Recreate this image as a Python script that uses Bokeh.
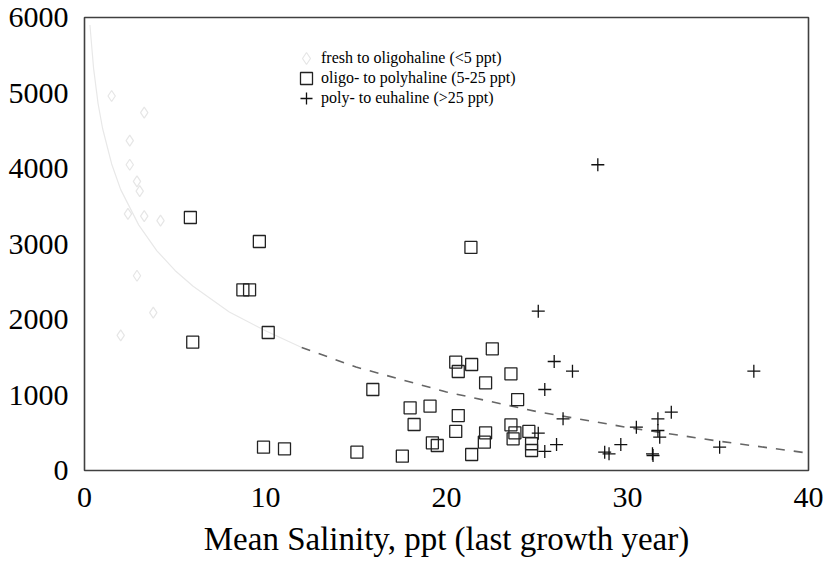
from bokeh.plotting import figure
from bokeh.models import Range1d, FixedTicker, Legend, LegendItem
from bokeh.embed import file_html
from bokeh.resources import INLINE

# fresh to oligohaline (<5 ppt)
fresh_x = [1.5, 3.3, 2.5, 2.5, 2.9, 3.05, 2.4, 3.3, 4.2, 2.9, 3.8, 2.0]
fresh_y = [4960, 4740, 4370, 4050, 3830, 3700, 3400, 3370, 3310, 2580, 2090, 1790]

# oligo- to polyhaline (5-25 ppt)
oligo_x = [5.85, 9.66, 8.75, 9.12, 10.15, 5.98, 21.35, 22.53, 20.51, 21.39, 20.65, 23.56,
           22.16, 15.93, 23.93, 17.99, 19.09, 20.65, 18.21, 20.51, 23.56, 22.16, 23.78,
           24.55, 22.09, 23.68, 19.22, 19.49, 24.7, 24.7, 9.89, 11.05, 15.05, 17.56, 21.39]
oligo_y = [3351, 3033, 2393, 2393, 1828, 1700, 2954, 1612, 1435, 1404, 1311, 1280,
           1161, 1073, 940, 830, 852, 728, 609, 517, 605, 499, 499,
           517, 375, 420, 367, 331, 354, 265, 309, 287, 243, 190, 212]

# poly- to euhaline (>25 ppt)
poly_x = [25.07, 25.95, 26.96, 36.98, 25.43, 32.42, 26.44, 31.68, 30.49, 31.68, 25.07,
          31.78, 26.08, 29.63, 25.43, 28.74, 28.98, 31.38, 31.41, 35.09, 28.36]
poly_y = [2110, 1444, 1315, 1315, 1073, 772, 685, 685, 574, 530, 494,
          441, 344, 344, 252, 243, 221, 221, 199, 309, 4050]

# trend line
trend_solid_x = [0.3, 0.5, 0.75, 1, 1.5, 2, 3, 4, 5, 6, 8, 10, 12]
trend_solid_y = [5900, 5330, 4860, 4530, 4060, 3720, 3250, 2910, 2650, 2440, 2100, 1850, 1630]
trend_dash_x = [12, 15, 20, 25, 30, 35, 40]
trend_dash_y = [1630, 1370, 1040, 780, 570, 390, 230]

x_ticks = [0, 10, 20, 30, 40]
y_ticks = [0, 1000, 2000, 3000, 4000, 5000, 6000]

series_labels = ["fresh to oligohaline (<5 ppt)",
                 "oligo- to polyhaline (5-25 ppt)",
                 "poly- to euhaline (>25 ppt)"]
x_title = "Mean Salinity, ppt (last growth year)"

FONT = "Liberation Serif"

p = figure(width=826, height=568, output_backend="svg", toolbar_location=None,
           x_range=Range1d(0, 40), y_range=Range1d(0, 6000),
           min_border_left=84, min_border_right=18, min_border_top=17, min_border_bottom=98)
p.background_fill_color = "white"
p.border_fill_color = "white"
p.grid.visible = False
p.outline_line_color = "#404040"
p.outline_line_width = 1.6

for ax in (p.xaxis[0], p.yaxis[0]):
    ax.axis_line_color = None
    ax.major_tick_line_color = None
    ax.minor_tick_line_color = None
    ax.major_tick_out = 0
    ax.major_tick_in = 0
    ax.major_label_text_font = FONT
    ax.major_label_text_font_size = "30px"
    ax.major_label_text_color = "black"

p.xaxis.ticker = FixedTicker(ticks=x_ticks)
p.yaxis.ticker = FixedTicker(ticks=y_ticks)
p.xaxis.major_label_standoff = 17
p.yaxis.major_label_standoff = 16
p.xaxis.axis_label = x_title
p.xaxis.axis_label_text_font = FONT
p.xaxis.axis_label_text_font_size = "33px"
p.xaxis.axis_label_text_font_style = "normal"
p.xaxis.axis_label_text_color = "black"
p.xaxis.axis_label_standoff = 11

p.line(trend_solid_x, trend_solid_y, line_color="#e8e8e8", line_width=1.2)
p.line(trend_dash_x, trend_dash_y, line_color="#666666", line_width=1.6, line_dash="9 9")

r1 = p.scatter(fresh_x, fresh_y, marker="diamond", size=11, fill_color=None,
               line_color="#e6e6e6", line_width=1.2)
r2 = p.scatter(oligo_x, oligo_y, marker="square", size=12, fill_color=None,
               line_color="#222222", line_width=1.3)
r3 = p.scatter(poly_x, poly_y, marker="cross", size=13, line_color="#111111", line_width=1.3)

for i, (lab, rr) in enumerate(zip(series_labels, [r1, r2, r3])):
    leg = Legend(items=[LegendItem(label=lab, renderers=[rr])],
                 location=(207, 397 - 20 * i), padding=0, margin=0, spacing=0,
                 glyph_width=30, glyph_height=30, label_height=20, label_standoff=0,
                 border_line_color=None, background_fill_alpha=0,
                 label_text_font=FONT, label_text_font_size="16px",
                 label_text_color="black")
    p.add_layout(leg, "center")

open("out.html", "w").write(file_html(p, INLINE))
